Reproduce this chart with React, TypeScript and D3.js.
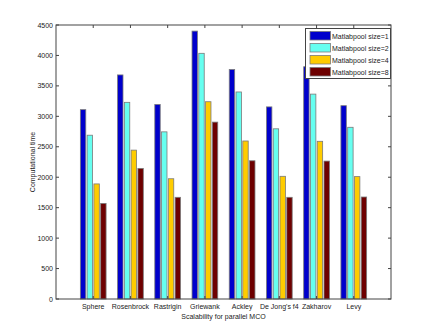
import React from "react";
import * as d3 from "d3";

const categories = ["Sphere", "Rosenbrock", "Rastrigin", "Griewank", "Ackley", "De Jong's f4", "Zakharov", "Levy"];
const seriesNames = ["Matlabpool size=1", "Matlabpool size=2", "Matlabpool size=4", "Matlabpool size=8"];
const size1 = [3110, 3680, 3195, 4400, 3770, 3155, 3815, 3175];
const size2 = [2690, 3230, 2745, 4035, 3400, 2795, 3365, 2820];
const size4 = [1890, 2445, 1975, 3240, 2595, 2015, 2590, 2010];
const size8 = [1570, 2145, 1670, 2905, 2270, 1670, 2265, 1675];
const yTicks = [0, 500, 1000, 1500, 2000, 2500, 3000, 3500, 4000, 4500];
const colors = ["#0000cc", "#66fff0", "#ffcc00", "#6e0000"];

const W = 432;
const H = 336;
const left = 56;
const right = 391;
const top = 25;
const bottom = 299;
const font = "'Liberation Sans', Arial, sans-serif";

export default function App() {
  const series = [size1, size2, size4, size8];
  const x = d3.scaleLinear().domain([0, categories.length + 1]).range([left, right]);
  const y = d3.scaleLinear().domain([0, 4500]).range([bottom, top]);
  const groupW = Math.min(0.8, 4 / (4 + 1.5));
  const step = groupW / 4;
  const barW = step * 0.8;

  return (
    <svg width={W} height={H} style={{ position: "absolute", left: 0, top: 0 }}>
      <rect width={W} height={H} fill="#fff" />
      {series.map((vals, s) =>
        vals.map((v, i) => {
          const cx = i + 1 + (s - 1.5) * step;
          return (
            <rect
              key={s + "-" + i}
              x={x(cx - barW / 2)}
              width={x(barW) - x(0)}
              y={y(v)}
              height={y(0) - y(v)}
              fill={colors[s]}
              stroke="#7a7a7a"
              strokeWidth={0.8}
            />
          );
        })
      )}
      <rect x={left} y={top} width={right - left} height={bottom - top} fill="none" stroke="#444" strokeWidth={1} />
      {yTicks.map((t) => (
        <g key={t}>
          <line x1={left} x2={left + 3} y1={y(t)} y2={y(t)} stroke="#444" />
          <line x1={right - 3} x2={right} y1={y(t)} y2={y(t)} stroke="#444" />
          <text x={left - 3} y={y(t) + 2.5} fontSize={7} fontFamily={font} textAnchor="end" fill="#222">
            {t}
          </text>
        </g>
      ))}
      {categories.map((c, i) => (
        <g key={c}>
          <line x1={x(i + 1)} x2={x(i + 1)} y1={bottom} y2={bottom - 3} stroke="#444" />
          <line x1={x(i + 1)} x2={x(i + 1)} y1={top} y2={top + 3} stroke="#444" />
          <text x={x(i + 1)} y={bottom + 10} fontSize={7} fontFamily={font} textAnchor="middle" fill="#222">
            {c}
          </text>
        </g>
      ))}
      <text x={(left + right) / 2} y={bottom + 20} fontSize={7} fontFamily={font} textAnchor="middle" fill="#222">
        Scalability for parallel MCO
      </text>
      <text
        transform={`translate(35,${(top + bottom) / 2}) rotate(-90)`}
        fontSize={7}
        fontFamily={font}
        textAnchor="middle"
        fill="#222"
      >
        Computational time
      </text>
      <g>
        <rect x={305.5} y={28.5} width={85} height={50} fill="#fff" stroke="#444" strokeWidth={1} />
        {seriesNames.map((n, s) => (
          <g key={n}>
            <rect x={310} y={31.5 + s * 12} width={20.5} height={8.5} fill={colors[s]} stroke="#7a7a7a" strokeWidth={0.8} />
            <text x={332} y={38.5 + s * 12} fontSize={7} fontFamily={font} fill="#222">
              {n}
            </text>
          </g>
        ))}
      </g>
    </svg>
  );
}
